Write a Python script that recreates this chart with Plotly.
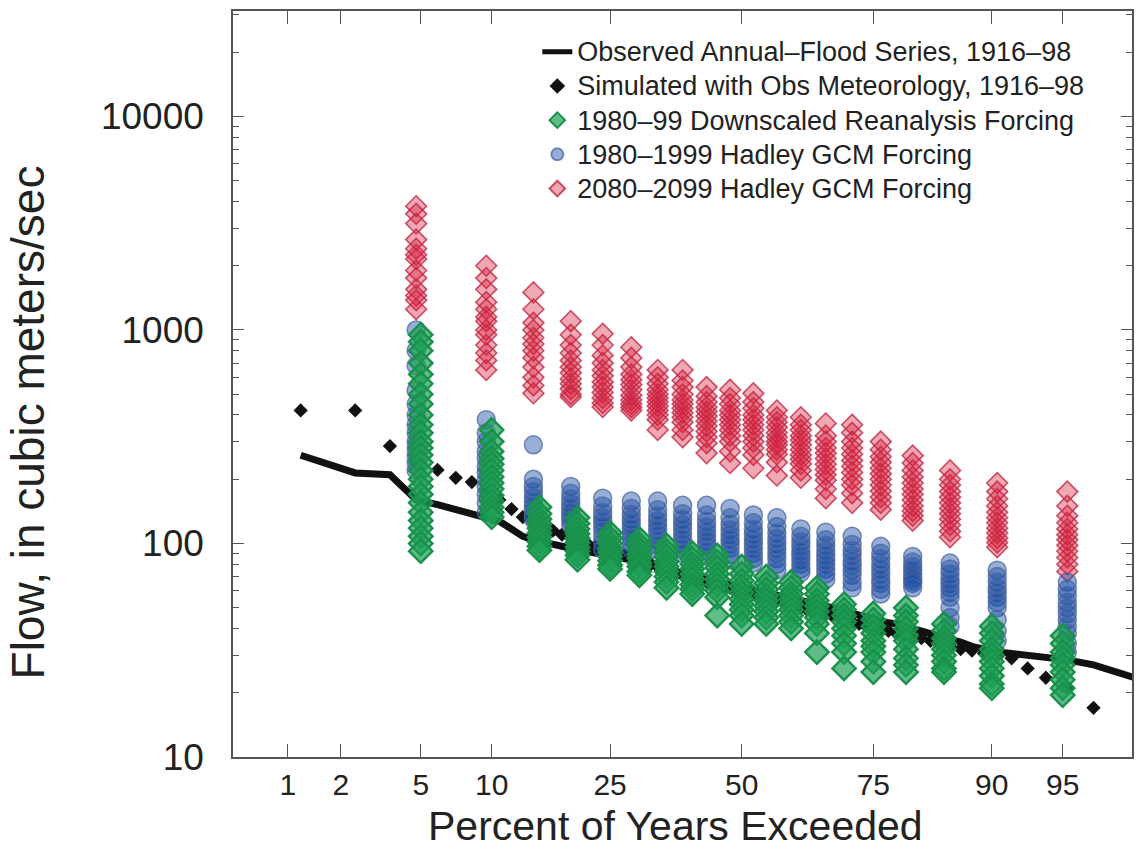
from statistics import NormalDist
import plotly.graph_objects as go

# ---------------------------------------------------------------------------
# Annual-flood frequency data (flow in cubic meters per second)
# ---------------------------------------------------------------------------

# Observed annual-flood series 1916-98 (83 years), ranked largest first
obs_flow = [
    259, 214, 210, 160, 152, 144, 139, 133, 127, 117,
    108, 104, 101, 99, 97, 95, 93, 91, 90, 89,
    88, 86, 85, 84, 83, 82, 80, 78, 77, 75,
    74, 72, 71, 70, 69, 68, 67, 66, 65, 64,
    63, 62, 61, 60, 59.5, 59, 58, 57.5, 57, 56,
    55, 54.5, 54, 53, 52, 51, 50, 49, 48, 47,
    46, 45, 44, 43, 42.5, 42, 41, 40, 39, 38,
    37, 36, 34.5, 33, 32, 31, 30.5, 30, 29.5, 28.5,
    27, 24, 20,
]
obs_years = 83

# Simulated with observed meteorology 1916-98, ranked largest first
sim_flow = [
    420, 420, 286, 245, 221, 203, 194, 180, 160, 145,
    133, 125, 120, 115, 110, 106, 103, 100, 97, 94,
    92, 90, 88, 86, 84, 82, 80, 78, 76, 74,
    72, 71, 70, 68, 67, 66, 65, 64, 63, 62,
    61, 60, 59, 58, 57, 56, 55, 54, 53, 52,
    51, 50, 49, 48, 47, 46.5, 46, 45, 44, 43,
    42, 41, 40, 39.5, 39, 38, 37, 36.5, 36, 35,
    34, 33, 32, 31.5, 30.5, 29.5, 29, 26, 23.5, 21,
    17,
]

# 1980-99 downscaled reanalysis forcing: one list per rank (19 ranks)
reanalysis_cols = [
    [950, 880, 800, 700, 620, 560, 500, 450, 400, 360, 330, 300, 280,
     260, 240, 220, 200, 185, 170, 155, 140, 128, 118, 108, 100, 92],
    [340, 300, 270, 250, 235, 220, 205, 192, 180, 168, 158, 148, 140, 133],
    [148, 138, 130, 124, 118, 112, 107, 102, 97, 93],
    [132, 124, 117, 111, 106, 101, 96, 92, 88, 84],
    [112, 106, 100, 95, 91, 87, 83, 79, 76],
    [105, 99, 94, 89, 85, 81, 78, 74, 71],
    [98, 92, 87, 82, 78, 74, 70, 66, 62],
    [90, 85, 80, 76, 72, 68, 64, 61, 58],
    [88, 82, 77, 72, 68, 64, 60, 56, 46],
    [78, 72, 67, 63, 59, 55, 52, 49, 46, 42],
    [70, 65, 61, 57, 54, 51, 48, 45, 42],
    [66, 62, 58, 55, 52, 49, 46, 43, 40],
    [62, 58, 54, 51, 48, 45, 42, 38, 31],
    [52, 49, 46, 43, 40, 37, 34, 31, 26],
    [47, 44, 41, 38, 35, 33, 31, 28, 25],
    [50, 46, 43, 40, 37, 35, 32, 29, 27, 25],
    [42, 39, 36, 34, 32, 30, 28, 26, 25],
    [41, 38, 35, 32, 30, 28, 26, 24, 22, 21],
    [37, 34, 31, 29, 27, 25, 23, 21, 19.5],
]

# 1980-1999 Hadley GCM forcing: one list per rank (20 ranks)
hadley_hist_cols = [
    [1000, 800, 680, 520, 450, 400, 360, 330, 300, 280, 260, 240, 220],
    [380, 330, 300, 270, 250, 230, 215, 200, 185, 170, 155, 140],
    [290, 200, 185, 175, 165, 157, 150, 143, 136, 130],
    [185, 172, 162, 154, 147, 140, 134, 128, 122],
    [163, 150, 140, 133, 127, 121, 115, 108, 101, 94],
    [158, 146, 137, 130, 124, 118, 112, 106, 100, 94],
    [158, 144, 135, 128, 122, 116, 110, 104, 98, 93],
    [151, 138, 130, 123, 117, 111, 105, 100, 95, 90],
    [151, 136, 127, 120, 114, 108, 103, 98, 92, 87],
    [146, 132, 123, 116, 110, 105, 100, 95, 89, 84],
    [136, 125, 117, 111, 105, 100, 95, 90, 85, 81],
    [132, 120, 112, 106, 100, 95, 90, 85, 80, 75],
    [117, 108, 102, 97, 92, 88, 84, 80, 76, 73],
    [113, 104, 98, 93, 88, 84, 80, 76, 72, 68],
    [108, 99, 93, 88, 83, 79, 75, 71, 66, 62],
    [97, 90, 85, 80, 76, 72, 68, 65, 61, 58],
    [87, 82, 78, 75, 72, 69, 67, 65, 62],
    [81, 76, 72, 68, 65, 62, 59, 56, 50, 45, 41],
    [75, 70, 66, 62, 59, 56, 53, 50, 44, 39, 35],
    [66, 61, 57, 53, 50, 47, 44, 41, 38, 34, 31],
]

# 2080-2099 Hadley GCM forcing: one list per rank (20 ranks)
hadley_future_cols = [
    [3800, 3500, 3150, 2650, 2400, 2250, 2150, 1900, 1750, 1550, 1450, 1380, 1250],
    [2000, 1750, 1550, 1350, 1250, 1150, 1100, 1000, 950, 850, 780, 720, 650],
    [1500, 1250, 1080, 1000, 920, 860, 800, 740, 670, 600, 550, 505],
    [1100, 950, 850, 780, 720, 670, 630, 590, 560, 530, 500, 485],
    [960, 850, 760, 700, 650, 610, 570, 540, 510, 480, 455, 436],
    [830, 740, 670, 620, 585, 555, 525, 495, 470, 450, 435, 420],
    [650, 600, 560, 525, 500, 480, 460, 440, 420, 400, 380, 340],
    [650, 580, 540, 500, 470, 450, 430, 410, 390, 370, 340, 315],
    [540, 490, 460, 435, 415, 395, 375, 355, 335, 315, 295, 265],
    [525, 480, 450, 420, 400, 380, 360, 340, 320, 300, 270, 238],
    [505, 460, 430, 400, 380, 360, 340, 320, 300, 280, 260, 225],
    [420, 390, 370, 350, 330, 315, 300, 290, 275, 262, 240, 208],
    [390, 360, 340, 320, 305, 290, 275, 260, 248, 236, 220, 203],
    [365, 320, 300, 280, 265, 250, 235, 222, 210, 198, 180, 163],
    [360, 330, 300, 280, 262, 245, 230, 215, 200, 188, 172, 155],
    [300, 275, 255, 240, 225, 212, 200, 188, 176, 165, 155, 144],
    [258, 238, 220, 205, 192, 180, 170, 160, 150, 142, 135, 128],
    [220, 200, 188, 175, 165, 155, 146, 138, 130, 122, 114, 107],
    [192, 175, 162, 150, 140, 132, 125, 118, 112, 106, 101, 96],
    [175, 150, 135, 125, 117, 110, 104, 98, 92, 86, 80, 74],
]

tick_pct = [1, 2, 5, 10, 25, 50, 75, 90, 95]
flow_ticks = [10, 100, 1000, 10000]

# ---------------------------------------------------------------------------
# Normal-probability x scale: percent exceeded -> standard normal quantile
# ---------------------------------------------------------------------------
_nd = NormalDist()


def prob_x(frac):
    return _nd.inv_cdf(frac)


def weibull_x(rank, n):
    return prob_x(rank / (n + 1))


def stack_columns(cols):
    n = len(cols)
    xs, ys = [], []
    for i, col in enumerate(cols, start=1):
        for v in col:
            xs.append(weibull_x(i, n))
            ys.append(v)
    return xs, ys


def legend_label(text, px=27):
    return f'<span style="font-size:{px}px">{text}</span>'


FONT = "Liberation Sans, Arial, Helvetica, sans-serif"
INK = "#222222"
AXIS = "#555555"

fig = go.Figure()

# observed series (thick black line)
fig.add_trace(go.Scatter(
    x=[weibull_x(i, obs_years) for i in range(1, len(obs_flow) + 1)],
    y=obs_flow, mode="lines",
    line=dict(color="#111111", width=7),
    name=legend_label("Observed Annual\u2013Flood Series, 1916\u201398"),
    legendrank=1, legendgroup="a",
))

# simulated with observed meteorology (black diamonds)
fig.add_trace(go.Scatter(
    x=[weibull_x(i, obs_years) for i in range(1, len(sim_flow) + 1)],
    y=sim_flow, mode="markers",
    marker=dict(symbol="diamond", size=11, color="#111111", line=dict(width=0)),
    name=legend_label("Simulated with Obs Meteorology, 1916\u201398"),
    legendrank=2, legendgroup="b",
))

# 2080-2099 Hadley GCM (red diamonds)
fx, fy = stack_columns(hadley_future_cols)
fig.add_trace(go.Scatter(
    x=fx, y=fy, mode="markers",
    marker=dict(symbol="diamond", size=16, color="rgba(215,25,55,0.38)",
                line=dict(color="rgba(195,40,70,0.8)", width=1.6)),
    name=legend_label("2080\u20132099 Hadley GCM Forcing"),
    legendrank=5, legendgroup="e",
))

# 1980-1999 Hadley GCM (blue circles)
hx, hy = stack_columns(hadley_hist_cols)
fig.add_trace(go.Scatter(
    x=hx, y=hy, mode="markers",
    marker=dict(symbol="circle", size=18, color="rgba(25,75,165,0.45)",
                line=dict(color="rgba(75,100,155,0.72)", width=1.5)),
    name=legend_label("1980\u20131999 Hadley GCM Forcing"),
    legendrank=4, legendgroup="d",
))

# 1980-99 downscaled reanalysis (green diamonds)
gx, gy = stack_columns(reanalysis_cols)
fig.add_trace(go.Scatter(
    x=gx, y=gy, mode="markers",
    marker=dict(symbol="diamond", size=18, color="rgba(30,160,85,0.7)",
                line=dict(color="rgb(25,145,75)", width=2.4)),
    name=legend_label("1980\u201399 Downscaled Reanalysis Forcing"),
    legendrank=3, legendgroup="c",
))

# minor ticks on the log flow axis
minor_vals = [m * 10 ** d for d in range(1, 5) for m in range(2, 10)]

fig.update_layout(
    width=1137, height=852,
    margin=dict(l=233, r=3, t=11, b=95),
    paper_bgcolor="white", plot_bgcolor="white",
    font=dict(family=FONT, color=INK),
    showlegend=True,
    legend=dict(
        x=(538 - 233) / 901, y=0.975, xanchor="left", yanchor="top",
        bgcolor="rgba(255,255,255,0)", borderwidth=0,
        font=dict(family=FONT, size=24, color=INK),
        tracegroupgap=0, itemsizing="constant",
    ),
    xaxis=dict(
        range=[-2.607, 2.0], showgrid=False, zeroline=False,
        tickmode="array",
        tickvals=[prob_x(p / 100) for p in tick_pct],
        ticktext=[str(p) for p in tick_pct],
        ticks="inside", ticklen=13, tickwidth=1.4, tickcolor=AXIS,
        showline=True, linecolor=AXIS, linewidth=1.6, mirror="ticks",
        tickfont=dict(family=FONT, size=30, color=INK),
        ticklabelstandoff=0,
    ),
    yaxis=dict(
        type="log", range=[1, 4.494], showgrid=False, zeroline=False,
        tickmode="array", tickvals=flow_ticks,
        ticktext=[str(v) for v in flow_ticks],
        ticks="inside", ticklen=11, tickwidth=1.4, tickcolor=AXIS,
        minor=dict(tickmode="array", tickvals=minor_vals, ticks="inside",
                   ticklen=6, tickwidth=1.2, tickcolor=AXIS, showgrid=False),
        showline=True, linecolor=AXIS, linewidth=1.6, mirror="ticks",
        tickfont=dict(family=FONT, size=37, color=INK),
        ticklabelstandoff=20,
    ),
    annotations=[
        dict(text="Percent of Years Exceeded", xref="paper", yref="paper",
             x=(676 - 233) / 901, y=(757 - 826) / 746,
             xanchor="center", yanchor="middle", showarrow=False,
             font=dict(family=FONT, size=41, color=INK)),
        dict(text="Flow, in cubic meters/sec", xref="paper", yref="paper",
             x=(28 - 233) / 901, y=(757 - 422) / 746, textangle=-90,
             xanchor="center", yanchor="middle", showarrow=False,
             font=dict(family=FONT, size=46, color=INK)),
    ],
)

fig.write_html("out.html")
